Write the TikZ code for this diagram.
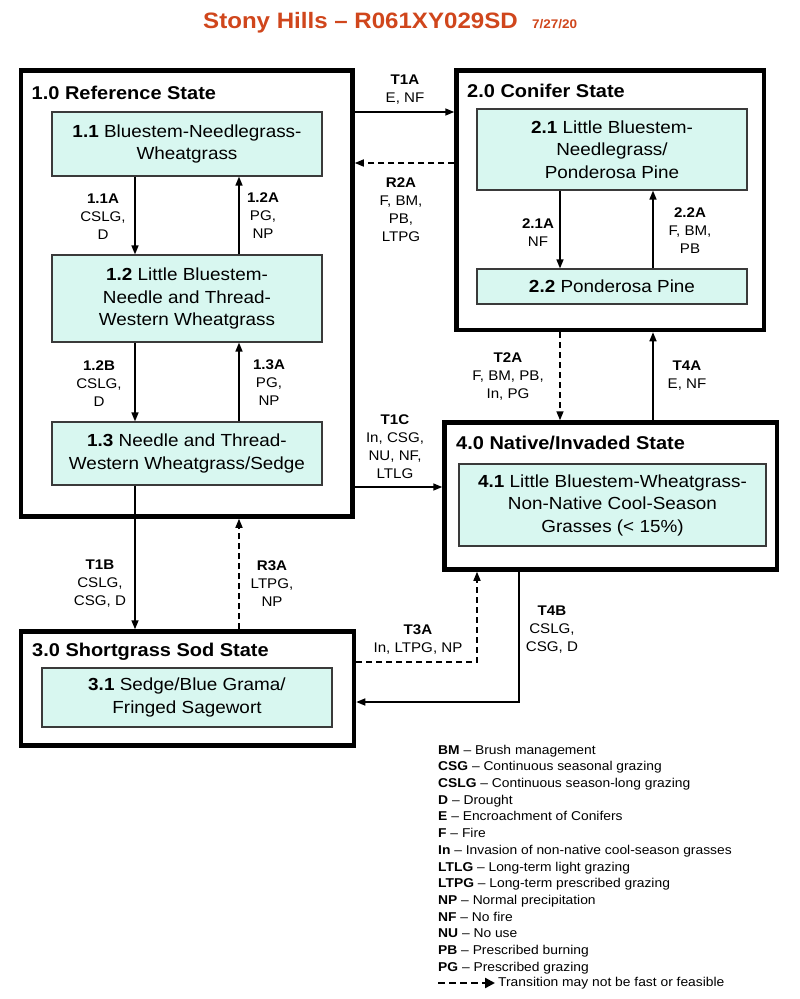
\documentclass[tikz,border=0pt]{standalone}
\usepackage{fontspec}
\setmainfont{Liberation Sans}[FakeStretch=1.08]
\usetikzlibrary{arrows.meta}
\definecolor{boxfill}{HTML}{D8F7F0}
\definecolor{titlered}{HTML}{D0461C}
\definecolor{boxline}{HTML}{3A3A3A}
\tikzset{
  statebox/.style={draw=black, line width=4.5pt, fill=white, inner sep=0pt},
  commbox/.style={draw=boxline, line width=1.2pt, fill=boxfill, inner sep=0pt, align=center, font=\fontsize{17.5}{22.5}\selectfont},
  statetitle/.style={anchor=base west, inner sep=0pt, font=\fontsize{18.5}{22}\selectfont\bfseries},
  lbl/.style={align=center, inner sep=0pt, font=\fontsize{14}{18}\selectfont},
  legtext/.style={anchor=base west, inner sep=0pt, font=\fontsize{12.8}{16}\selectfont},
  arr/.style={line width=1.5pt, -{Triangle[length=9pt,width=7pt]}},
  darr/.style={arr, dash pattern=on 6pt off 4pt},
}
\begin{document}
\begin{tikzpicture}[x=1pt,y=-1pt]
\useasboundingbox (0,0) rectangle (800,999);
\fill[white] (0,0) rectangle (800,999);

% title
\node[anchor=base west, inner sep=0pt, text=titlered, font=\fontsize{22.3}{26}\selectfont\bfseries] (title) at (203,28) {Stony Hills -- R061XY029SD};
\node[anchor=base west, inner sep=0pt, text=titlered, font=\fontsize{12.5}{14}\selectfont\bfseries] (date) at (532,28) {7/27/20};

% state boxes
\node[statebox, minimum width=331.5pt, minimum height=446pt] (s1) at (186.75,293.5) {};
\node[statebox, minimum width=307.5pt, minimum height=259.5pt] (s2) at (610.25,200.25) {};
\node[statebox, minimum width=332.5pt, minimum height=147pt] (s4) at (610.75,496) {};
\node[statebox, minimum width=333pt, minimum height=114pt] (s3) at (187.5,688.5) {};

\node[statetitle] (s1t) at (31.5,99) {1.0 Reference State};
\node[statetitle] (s2t) at (467,97) {2.0 Conifer State};
\node[statetitle] (s4t) at (456,449) {4.0 Native/Invaded State};
\node[statetitle] (s3t) at (32,656) {3.0 Shortgrass Sod State};

% community boxes
\node[commbox, minimum width=270pt, minimum height=64pt] (b11) at (187,144) {\textbf{1.1} Bluestem-Needlegrass-\\Wheatgrass};
\node[commbox, minimum width=270pt, minimum height=87pt] (b12) at (187,298.5) {\textbf{1.2} Little Bluestem-\\Needle and Thread-\\Western Wheatgrass};
\node[commbox, minimum width=270pt, minimum height=63pt] (b13) at (187,453.5) {\textbf{1.3} Needle and Thread-\\Western Wheatgrass/Sedge};
\node[commbox, minimum width=270pt, minimum height=81pt] (b21) at (612,149.5) {\textbf{2.1} Little Bluestem-\\Needlegrass/\\Ponderosa Pine};
\node[commbox, minimum width=270pt, minimum height=35pt] (b22) at (612,286.5) {\textbf{2.2} Ponderosa Pine};
\node[commbox, minimum width=307pt, minimum height=82pt] (b41) at (612.5,505) {\textbf{4.1} Little Bluestem-Wheatgrass-\\Non-Native Cool-Season\\Grasses (< 15\%)};
\node[commbox, minimum width=290pt, minimum height=59pt] (b31) at (187,697.5) {\textbf{3.1} Sedge/Blue Grama/\\Fringed Sagewort};

% guide coordinates
\coordinate (xL) at (135,0);
\coordinate (xR) at (239,0);
\coordinate (xC2L) at (560,0);
\coordinate (xC2R) at (653,0);
\coordinate (yT1A) at (0,112);
\coordinate (yR2A) at (0,163);
\coordinate (yT1C) at (0,487);
\coordinate (t3a) at (477,662);
\coordinate (t4b) at (519,702);

% within-state arrows
\draw[arr] (b11.south -| xL) -- (b12.north -| xL);
\draw[arr] (b12.north -| xR) -- (b11.south -| xR);
\draw[arr] (b12.south -| xL) -- (b13.north -| xL);
\draw[arr] (b13.north -| xR) -- (b12.south -| xR);
\draw[arr] (b21.south -| xC2L) -- (b22.north -| xC2L);
\draw[arr] (b22.north -| xC2R) -- (b21.south -| xC2R);

% transitions
\draw[arr] (s1.east |- yT1A) -- (s2.west |- yT1A);
\draw[darr] (s2.west |- yR2A) -- (s1.east |- yR2A);
\draw[arr] (s1.east |- yT1C) -- (s4.west |- yT1C);
\draw[darr] (s2.south -| xC2L) -- (s4.north -| xC2L);
\draw[arr] (s4.north -| xC2R) -- (s2.south -| xC2R);
\draw[arr] (b13.south -| xL) -- (s3.north -| xL);
\draw[darr] (s3.north -| xR) -- (s1.south -| xR);
\draw[darr] (s3.east |- t3a) -| (s4.south -| t3a);
\draw[arr] (s4.south -| t4b) |- (s3.east |- t4b);

% labels
\node[lbl] (l11a) at (103,216.5) {\textbf{1.1A}\\CSLG,\\D};
\node[lbl] (l12a) at (263,216) {\textbf{1.2A}\\PG,\\NP};
\node[lbl] (l12b) at (99,384) {\textbf{1.2B}\\CSLG,\\D};
\node[lbl] (l13a) at (269,383) {\textbf{1.3A}\\PG,\\NP};
\node[lbl] (lt1a) at (405,90) {\textbf{T1A}\\E, NF};
\node[lbl] (lr2a) at (401,210) {\textbf{R2A}\\F, BM,\\PB,\\LTPG};
\node[lbl] (lt1c) at (395,446.5) {\textbf{T1C}\\In, CSG,\\NU, NF,\\LTLG};
\node[lbl] (l21a) at (538,232.5) {\textbf{2.1A}\\NF};
\node[lbl] (l22a) at (690,231) {\textbf{2.2A}\\F, BM,\\PB};
\node[lbl] (lt2a) at (508,376.5) {\textbf{T2A}\\F, BM, PB,\\In, PG};
\node[lbl] (lt4a) at (687,376) {\textbf{T4A}\\E, NF};
\node[lbl] (lt1b) at (100,584) {\textbf{T1B}\\CSLG,\\CSG, D};
\node[lbl] (lr3a) at (272,584) {\textbf{R3A}\\LTPG,\\NP};
\node[lbl] (lt3a) at (418,639) {\textbf{T3A}\\In, LTPG, NP};
\node[lbl] (lt4b) at (552,630) {\textbf{T4B}\\CSLG,\\CSG, D};

% legend
\foreach \ab/\desc [count=\i] in {BM/Brush management, CSG/Continuous seasonal grazing, CSLG/Continuous season-long grazing, D/Drought, E/Encroachment of Conifers, F/Fire, In/Invasion of non-native cool-season grasses, LTLG/Long-term light grazing, LTPG/Long-term prescribed grazing, NP/Normal precipitation, NF/No fire, NU/No use, PB/Prescribed burning, PG/Prescribed grazing}
  \node[legtext] (leg\i) at (438,{754.3+(\i-1)*16.67}) {\textbf{\ab} -- \desc};
\coordinate (la1) at (438,983);
\coordinate (la2) at (495,983);
\draw[line width=2.3pt, dash pattern=on 6.5pt off 4.5pt, -{Triangle[length=10pt,width=10pt]}] (la1) -- (la2);
\node[legtext] (legarr) at (498,986.7) {Transition may not be fast or feasible};
\end{tikzpicture}
\end{document}
